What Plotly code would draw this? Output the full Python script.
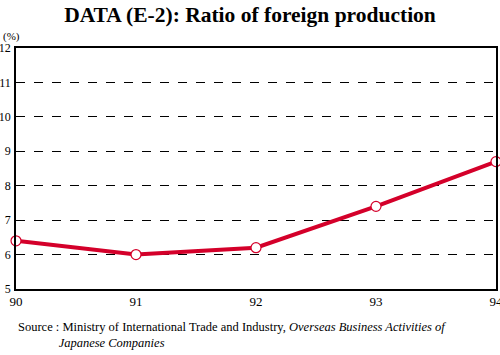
import plotly.graph_objects as go

years = ["90", "91", "92", "93", "94"]
x_pos = [0, 1, 2, 3, 4]
ratio = [6.4, 6.0, 6.2, 7.4, 8.7]
y_ticks = [5, 6, 7, 8, 9, 10, 11, 12]

RED = "#d4002a"
FONT = "Liberation Serif"

fig = go.Figure()
fig.add_trace(go.Scatter(
    x=x_pos, y=ratio, mode="lines+markers",
    line=dict(color=RED, width=4),
    marker=dict(size=10, color="white", line=dict(color=RED, width=1.2)),
    cliponaxis=False, showlegend=False,
))

fig.update_layout(
    width=500, height=355,
    margin=dict(l=16, r=4, t=48, b=66),
    paper_bgcolor="white", plot_bgcolor="white",
    font=dict(family=FONT, size=13, color="black"),
    title=dict(text="<b>DATA (E-2): Ratio of foreign production</b>",
               x=0.5, xanchor="center", y=0.958, yanchor="middle",
               font=dict(family=FONT, size=21.5, color="black")),
    xaxis=dict(range=[0, 4], tickvals=x_pos, ticktext=years, automargin=False,
               showgrid=False, zeroline=False, showline=True,
               linecolor="black", linewidth=1.5, mirror=True,
               ticks="", ticklabeloverflow="allow",
               tickfont=dict(family=FONT, size=13)),
    yaxis=dict(range=[5, 12], tickvals=y_ticks, automargin=False,
               showgrid=True, gridcolor="black", gridwidth=1, griddash="dash",
               zeroline=False, showline=True, linecolor="black", linewidth=1.5,
               mirror=True, ticks="", ticklabelstandoff=1, ticklabeloverflow="allow",
               tickfont=dict(family=FONT, size=12)),
)

fig.add_annotation(text="(%)", xref="paper", yref="paper", x=-0.031, y=1.012,
                   xanchor="left", yanchor="bottom", showarrow=False,
                   font=dict(family=FONT, size=11))
fig.add_annotation(
    text="Source : Ministry of International Trade and Industry, <i>Overseas Business Activities of</i><br>"
         "&nbsp;&nbsp;&nbsp;&nbsp;&nbsp;&nbsp;&nbsp;&nbsp;&nbsp;&nbsp;&nbsp;&nbsp;&nbsp;<i>Japanese Companies</i>",
    xref="paper", yref="paper", x=0.0, y=-0.12, xanchor="left", yanchor="top",
    align="left", showarrow=False, font=dict(family=FONT, size=12.5))

fig.write_html("out.html", config={"displayModeBar": False},
               post_script="document.body.style.margin='0';document.body.style.overflow='hidden';")
